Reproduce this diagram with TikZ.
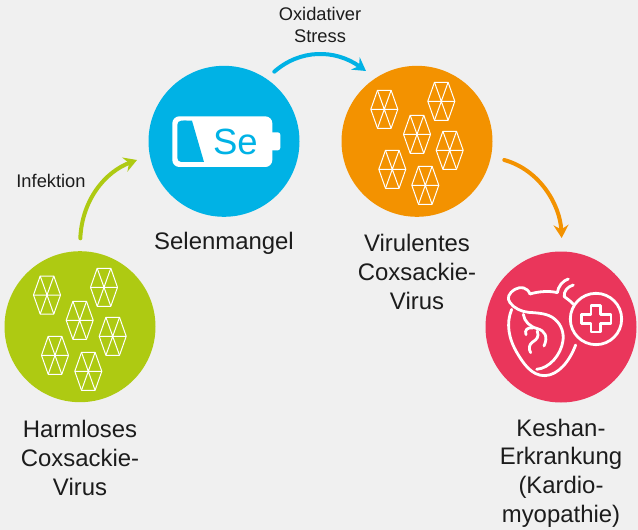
\documentclass[tikz,border=0pt]{standalone}
\usepackage{fontspec}
\setmainfont{Liberation Sans}
\usetikzlibrary{arrows.meta}
\definecolor{bgc}{HTML}{F0F0F0}
\definecolor{cgreen}{HTML}{AECA12}
\definecolor{cblue}{HTML}{00B2E5}
\definecolor{corange}{HTML}{F39200}
\definecolor{cred}{HTML}{EA365B}
\definecolor{ctext}{HTML}{1C1C1C}
\tikzset{
  disc/.style={circle,minimum size=151pt,inner sep=0pt,fill=#1},
  biglabel/.style={align=center,font=\fontsize{23.9}{28.7}\selectfont,text=ctext,inner sep=0pt},
  smalllabel/.style={align=center,font=\fontsize{18.3}{22}\selectfont,text=ctext,inner sep=0pt},
  flow/.style={line width=4pt,line cap=round,draw=#1,-{Stealth[length=13pt,width=15pt,inset=4.5pt,fill=#1]}},
  hexline/.style={draw=white,line width=1pt,line join=round},
  heartline/.style={draw=white,line width=2.8pt,line cap=round,line join=round},
  hexvirus/.pic={
    \draw[hexline] (-13.5,0)--(-6.8,-19)--(6.8,-19)--(13.5,0)--(6.8,19)--(-6.8,19)--cycle;
    \draw[hexline] (-13.5,0)--(13.5,0) (-6.8,-19)--(6.8,19) (6.8,-19)--(-6.8,19);
  }
}
\begin{document}
\begin{tikzpicture}[x=1pt,y=-1pt]
\useasboundingbox (0,0) rectangle (638,530);
\fill[bgc] (0,0) rectangle (638,530);
% discs
\node[disc=cgreen] (harmless) at (80,326.7) {};
\node[disc=cblue] (selen) at (224,141.3) {};
\node[disc=corange] (virulent) at (417,141.3) {};
\node[disc=cred] (keshan) at (561,327) {};
% viruses
\foreach \x/\y in {47/295,104/287.3,79.7/320.3,112.7/336.3,55/355.3,88.3/371.3,
                   384.3/109.3,441.3/101.3,417/134.3,449.7/150.3,392.3/169.3,425.3/185.3}
  \pic at (\x,\y) {hexvirus};
% battery
\begin{scope}[shift={(140,70)},x=0.3333pt,y=-0.3333pt]
  \fill[white,rounded corners=7pt] (97,139) rectangle (397,291);
  \fill[white,rounded corners=2.5pt] (385,187) rectangle (421,241);
  \fill[cblue,rounded corners=4pt] (112,152) -- (112,276) -- (150,276) -- (150,152) -- cycle;
  \fill[cblue] (130,152) -- (156,152) -- (192,276) -- (130,276) -- cycle;
  \node[inner sep=0pt,text=cblue,font=\fontsize{36.5}{40}\selectfont] (setext) at (286,215) {Se};
\end{scope}
% heart
\begin{scope}[shift={(480,250)},x=0.3333pt,y=-0.3333pt]
  \draw[heartline] (150,132) .. controls (142,112) and (122,108) .. (105,118)
     .. controls (85,130) and (80,145) .. (90,158)
     .. controls (102,175) and (125,185) .. (145,187)
     .. controls (175,189) and (205,190) .. (225,208)
     .. controls (245,225) and (252,250) .. (249,272)
     .. controls (243,315) and (208,355) .. (170,358);
  \draw[heartline] (150,132) .. controls (175,124) and (210,122) .. (232,128)
     .. controls (234,110) and (248,92) .. (265,87);
  \draw[heartline] (280,105) .. controls (262,110) and (250,125) .. (253,140)
     .. controls (262,147) and (272,153) .. (280,163);
  \draw[heartline] (95,178) .. controls (78,220) and (85,265) .. (112,310)
     .. controls (130,340) and (155,378) .. (195,377)
     .. controls (235,375) and (268,335) .. (287,285);
  \draw[heartline] (130,193) .. controls (133,215) and (150,230) .. (172,236)
     .. controls (195,242) and (205,260) .. (192,288);
  \draw[heartline] (158,234) .. controls (142,232) and (133,240) .. (138,254);
  \draw[heartline] (172,243) .. controls (178,262) and (170,268) .. (158,276)
     .. controls (147,284) and (145,296) .. (152,308);
  \draw[heartline] (348,207) circle[radius=77];
  \draw[heartline] (333,167) -- (361,167) -- (361,194) -- (393,194) -- (393,220) -- (361,220) -- (361,246) -- (333,246) -- (333,220) -- (304,220) -- (304,194) -- (333,194) -- cycle;
\end{scope}
% labels
\node[biglabel] (lh) at (80,458) {Harmloses\\Coxsackie-\\Virus};
\node[biglabel] (ls) at (224,243) {Selenmangel};
\node[biglabel] (lv) at (417,272) {Virulentes\\Coxsackie-\\Virus};
\node[biglabel] (lk) at (561,473) {Keshan-\\Erkrankung\\(Kardio-\\myopathie)};
\node[smalllabel] (li) at (51,181) {Infektion};
\node[smalllabel] (lo) at (320,25) {Oxidativer\\Stress};
% connectors
\coordinate (a1) at (80.3,238.3);
\coordinate (a2) at (137,160);
\coordinate (b1) at (274.3,71.7);
\coordinate (b2) at (366,71);
\coordinate (c1) at (504.3,160);
\coordinate (c2) at (561.7,238);
\draw[flow=cgreen] (a1) .. controls (82,200) and (105,172) .. (a2);
\draw[flow=cblue] (b1) .. controls (300,49) and (335,49) .. (b2);
\draw[flow=corange] (c1) .. controls (540,170) and (560,205) .. (c2);
\end{tikzpicture}
\end{document}
